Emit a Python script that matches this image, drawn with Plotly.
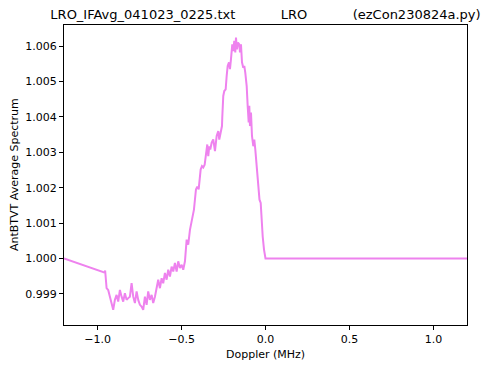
import plotly.graph_objects as go

doppler_mhz = [
    -1.2, -0.9565, -0.955, -0.9464, -0.9368, -0.9267, -0.9166, -0.9070, -0.8969, -0.8868,
    -0.8772, -0.8671, -0.8570, -0.8474, -0.8373, -0.8272, -0.8176, -0.8075, -0.7974, -0.7878,
    -0.7777, -0.7676, -0.7580, -0.7479, -0.7378, -0.7282, -0.7181, -0.7080, -0.6985, -0.6883,
    -0.6782, -0.6687, -0.6585, -0.6484, -0.6389, -0.6287, -0.6186, -0.6091, -0.5989, -0.5888,
    -0.5793, -0.5691, -0.5590, -0.5495, -0.5393, -0.5292, -0.5197, -0.5095, -0.4994, -0.4899,
    -0.4797, -0.4696, -0.4601, -0.4499, -0.4398, -0.4321, -0.4261, -0.4142, -0.4064, -0.3981,
    -0.3903, -0.3862, -0.3784, -0.3707, -0.3623, -0.3546, -0.3468, -0.3409, -0.3349, -0.3290,
    -0.3206, -0.3111, -0.3009, -0.2908, -0.2813, -0.2753, -0.2670, -0.2592, -0.2574, -0.2515,
    -0.2455, -0.2372, -0.2312, -0.2253, -0.2175, -0.2116, -0.2056, -0.1979, -0.1919, -0.1859,
    -0.1800, -0.1758, -0.1698, -0.1639, -0.1561, -0.1520, -0.1460, -0.1400, -0.1323, -0.1263,
    -0.1204, -0.1120, -0.1061, -0.1001, -0.0965, -0.0924, -0.0864, -0.0805, -0.0727, -0.0667,
    -0.0608, -0.0524, -0.0429, -0.0358, -0.0286, -0.0226, -0.0167, -0.0089, -0.0048, -0.0030,
    0.0, 1.2,
]

ant_btvt_avg = [
    1.00000, 0.99960, 0.99966, 0.99916, 0.99911, 0.99892, 0.99878, 0.99855, 0.99883, 0.99897,
    0.99878, 0.99911, 0.99892, 0.99878, 0.99902, 0.99883, 0.99888, 0.99892, 0.99930, 0.99892,
    0.99874, 0.99907, 0.99883, 0.99869, 0.99864, 0.99855, 0.99892, 0.99869, 0.99907, 0.99883,
    0.99897, 0.99874, 0.99892, 0.99921, 0.99940, 0.99916, 0.99944, 0.99930, 0.99959, 0.99940,
    0.99968, 0.99949, 0.99977, 0.99963, 0.99987, 0.99963, 0.99992, 0.99973, 0.99982, 0.99968,
    0.99992, 1.00053, 1.00039, 1.00081, 1.00110, 1.00124, 1.00138, 1.00195, 1.00203, 1.00195,
    1.00223, 1.00251, 1.00261, 1.00257, 1.00265, 1.00299, 1.00322, 1.00289, 1.00317, 1.00308,
    1.00327, 1.00336, 1.00303, 1.00346, 1.00360, 1.00336, 1.00355, 1.00374, 1.00399, 1.00459,
    1.00473, 1.00478, 1.00516, 1.00544, 1.00554, 1.00535, 1.00563, 1.00605, 1.00586, 1.00615,
    1.00582, 1.00624, 1.00591, 1.00610, 1.00605, 1.00582, 1.00605, 1.00554, 1.00539, 1.00544,
    1.00525, 1.00487, 1.00431, 1.00384, 1.00431, 1.00374, 1.00412, 1.00346, 1.00317, 1.00336,
    1.00308, 1.00261, 1.00214, 1.00166, 1.00157, 1.00095, 1.00062, 1.00025, 1.00006, 1.00010,
    1.00000, 1.00000,
]

x_ticks = [-1.0, -0.5, 0.0, 0.5, 1.0]
x_tick_labels = ["\u22121.0", "\u22120.5", "0.0", "0.5", "1.0"]
y_ticks = [0.999, 1.000, 1.001, 1.002, 1.003, 1.004, 1.005, 1.006]
y_tick_labels = ["0.999", "1.000", "1.001", "1.002", "1.003", "1.004", "1.005", "1.006"]

title_text = ("LRO_IFAvg_041023_0225.txt" + "\u00a0" * 11 + "LRO" + "\u00a0" * 11
              + "(ezCon230824a.py)")

font_family = "DejaVu Sans"

# page body has an 8px default margin; figure is sized to fill the rest of the window
FIG_W, FIG_H = 492, 361

fig = go.Figure()
fig.add_trace(go.Scatter(
    x=doppler_mhz, y=ant_btvt_avg, mode="lines",
    line=dict(color="#EE82EE", width=2),
    showlegend=False,
))

axis_common = dict(
    showgrid=False, zeroline=False, showline=True, linecolor="black", linewidth=1,
    mirror=True, ticks="outside", ticklen=4, tickwidth=1, tickcolor="black",
    tickfont=dict(family=font_family, size=11, color="black"),
)

fig.update_xaxes(range=[-1.2, 1.2], tickvals=x_ticks, ticktext=x_tick_labels, **axis_common)
fig.update_yaxes(range=[0.99812, 1.006595], tickvals=y_ticks, ticktext=y_tick_labels, **axis_common)

fig.update_layout(
    width=FIG_W, height=FIG_H,
    margin=dict(l=56, r=33, t=17, b=44),
    paper_bgcolor="white", plot_bgcolor="white",
    font=dict(family=font_family, color="black"),
    title=dict(text=title_text, x=0.5, xref="paper", y=1 - 6 / FIG_H, yref="container",
               xanchor="center", yanchor="middle",
               font=dict(family=font_family, size=13, color="black")),
    annotations=[
        dict(text="Doppler (MHz)", xref="paper", yref="paper", x=0.5, y=(325 - 354) / 300,
             xanchor="center", yanchor="middle", showarrow=False,
             font=dict(family=font_family, size=11, color="black")),
        dict(text="AntBTVT Average Spectrum", xref="paper", yref="paper", x=(14 - 64) / 403, y=0.5,
             xanchor="center", yanchor="middle", textangle=-90, showarrow=False,
             font=dict(family=font_family, size=11, color="black")),
    ],
)

fig.write_html("out.html")
